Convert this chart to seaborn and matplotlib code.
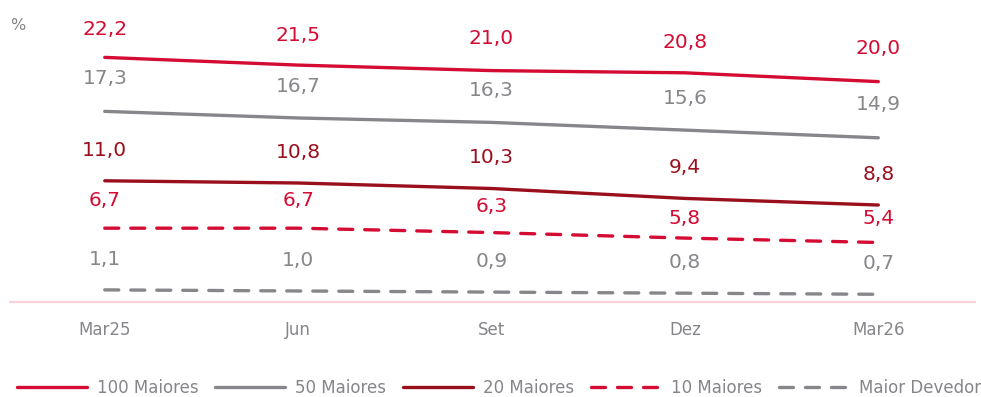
import matplotlib
matplotlib.use("Agg")
import matplotlib.pyplot as plt
import seaborn as sns
import pandas as pd

periods = ["Mar25", "Jun", "Set", "Dez", "Mar26"]
top100 = [22.2, 21.5, 21.0, 20.8, 20.0]
top50 = [17.3, 16.7, 16.3, 15.6, 14.9]
top20 = [11.0, 10.8, 10.3, 9.4, 8.8]
top10 = [6.7, 6.7, 6.3, 5.8, 5.4]
largest = [1.1, 1.0, 0.9, 0.8, 0.7]

series_names = ["100 Maiores", "50 Maiores", "20 Maiores", "10 Maiores", "Maior Devedor"]
series_values = [top100, top50, top20, top10, largest]

RED = "#d40b33"
GRAY = "#87878b"
DARK = "#9a0f1c"
colors = [RED, GRAY, DARK, RED, GRAY]
dashed = [False, False, False, True, True]

# label lift above each point, in points (a few are nudged to avoid crowding)
lift = {name: [22] * 5 for name in series_names}
lift["10 Maiores"] = [20, 20, 19, 14, 17]
lift["100 Maiores"] = [20, 21, 23, 22, 24]
lift["50 Maiores"] = [24, 23, 23, 23, 24]

sns.set_theme(style="white")
plt.rcParams["font.family"] = ["DejaVu Sans"]

rows = []
for name, vals in zip(series_names, series_values):
    for i, (p, v) in enumerate(zip(periods, vals)):
        rows.append({"periodo": p, "pos": i, "serie": name, "valor": v})
df = pd.DataFrame(rows)

fig = plt.figure(figsize=(9.81, 3.97), dpi=100)
ax = fig.add_axes([10 / 981, 1 - 302 / 397, 965 / 981, 292 / 397])

for name, col, ds in zip(series_names, colors, dashed):
    sub = df[df["serie"] == name]
    sns.lineplot(data=sub, x="pos", y="valor", ax=ax, color=col,
                 linewidth=2.4, label=name, legend=False)
    ln = ax.get_lines()[-1]
    ln.set_solid_capstyle("round")
    if ds:
        ln.set_dashes((4.2, 3.6))
        ln.set_dash_capstyle("round")
    for k, (_, r) in enumerate(sub.iterrows()):
        ax.annotate(f"{r['valor']:.1f}".replace(".", ","), (r["pos"], r["valor"]),
                    xytext=(0, lift[name][k]), textcoords="offset points",
                    ha="center", va="center", fontsize=14.5, color=col)

ax.set_xlim(-0.49, 4.5)
ax.set_ylim(0, 26.5)
for s in ["top", "right", "left"]:
    ax.spines[s].set_visible(False)
ax.spines["bottom"].set_color("#fad3da")
ax.spines["bottom"].set_linewidth(1.6)
ax.set_yticks([])
ax.set_xticks(range(len(periods)))
ax.set_xticklabels(periods, fontsize=12, color="#85858a")
ax.tick_params(axis="x", length=0, pad=14)
ax.set_xlabel("")
ax.set_ylabel("")

fig.text(18 / 981, 1 - 25 / 397, "%", fontsize=11.5, color="#85858a", ha="center", va="center")

handles = ax.get_lines()[:5]
leg = fig.legend(handles, series_names, loc="center", bbox_to_anchor=(499 / 981, 1 - 388 / 397),
                 ncol=5, frameon=False, fontsize=12, handlelength=4.2,
                 handletextpad=0.6, columnspacing=1.0)
for t in leg.get_texts():
    t.set_color("#85858a")

fig.savefig("out.png", dpi=100)
